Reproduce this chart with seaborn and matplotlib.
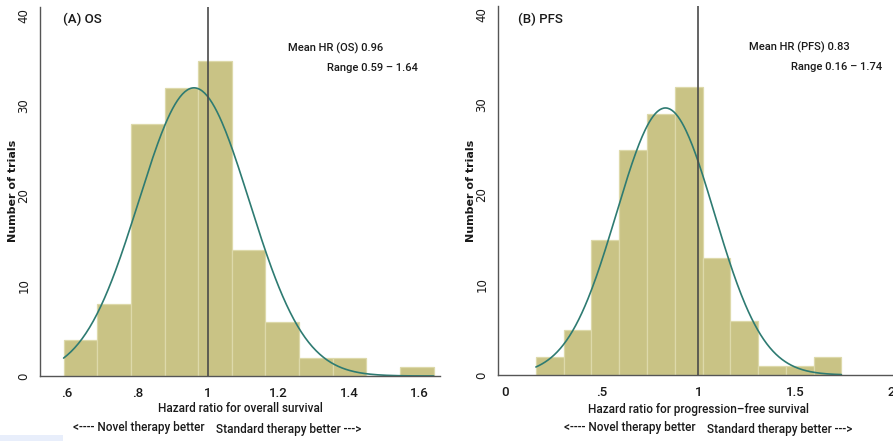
import seaborn as sns
import matplotlib.pyplot as plt
import matplotlib.patches as mpatches
import numpy as np
import pandas as pd

# Histogram counts (11 bins each)
os_counts = [4, 8, 28, 32, 35, 14, 6, 2, 2, 0, 1]
os_range = (0.59, 1.64)
os_mean = 0.96
os_sd = 0.157

pfs_counts = [2, 5, 15, 25, 29, 32, 13, 6, 1, 1, 2]
pfs_range = (0.16, 1.74)
pfs_mean = 0.83
pfs_sd = 0.253

os_ticks = [0.6, 0.8, 1.0, 1.2, 1.4, 1.6]
os_ticklabels = [".6", ".8", "1", "1.2", "1.4", "1.6"]
pfs_ticks = [0, 0.5, 1.0, 1.5, 2.0]
pfs_ticklabels = ["0", ".5", "1", "1.5", "2"]
y_ticks = [0, 10, 20, 30, 40]

bar_color = "#c9c385"
edge_color = "#ddd9aa"
curve_color = "#2e7b72"
axis_color = "#555555"
text_color = "#1a1a1a"
main_font = ["Roboto", "DejaVu Sans"]

sns.set_style("white")
plt.rcParams["font.family"] = main_font
plt.rcParams["font.weight"] = "medium"

fig = plt.figure(figsize=(8.93, 4.41), dpi=100)
W, H = 893, 441


def add_axes(left, right, bottom, top):
    return fig.add_axes([left / W, 1 - bottom / H, (right - left) / W, (bottom - top) / H])


def draw_panel(ax, counts, rng, mean, sd, xlim, ticks, ticklabels):
    edges = np.linspace(rng[0], rng[1], len(counts) + 1)
    centers = (edges[:-1] + edges[1:]) / 2
    width = edges[1] - edges[0]
    df = pd.DataFrame({"hr": centers, "n": counts})
    sns.histplot(data=df, x="hr", weights="n", bins=list(edges), color=bar_color,
                 edgecolor=edge_color, linewidth=0.9, alpha=1, ax=ax)
    # normal density overlay scaled to counts
    xs = np.linspace(rng[0], rng[1], 300)
    ys = sum(counts) * width * np.exp(-0.5 * ((xs - mean) / sd) ** 2) / (sd * np.sqrt(2 * np.pi))
    sns.lineplot(x=xs, y=ys, color=curve_color, linewidth=1.2, ax=ax)
    ax.axvline(1.0, color="#4a4a4a", linewidth=1.2, zorder=5)
    ax.set_xlim(*xlim)
    ax.set_ylim(0, 41)
    ax.set_xticks(ticks)
    ax.set_xticklabels(ticklabels, fontsize=9.5)
    ax.set_yticks(y_ticks)
    ax.set_yticklabels([str(t) for t in y_ticks], rotation=90, va="center",
                       fontsize=8.5, family=["DejaVu Sans"])
    ax.set_xlabel("")
    ax.set_ylabel("")
    for s in ["top", "right"]:
        ax.spines[s].set_visible(False)
    for s in ["left", "bottom"]:
        ax.spines[s].set_color(axis_color)
        ax.spines[s].set_linewidth(1.0)
    ax.tick_params(axis="both", direction="out", length=5, width=1,
                   color=axis_color, labelcolor=text_color)
    ax.tick_params(axis="y", pad=2)
    ax.tick_params(axis="x", pad=3)
    ax.patch.set_alpha(0)


# Panel A: overall survival
ax1 = add_axes(40, 440, 376, 7)
draw_panel(ax1, os_counts, os_range, os_mean, os_sd, (0.523, 1.658), os_ticks, os_ticklabels)
ax1.text(0.588, 39.6, "(A) OS", fontsize=9.5, ha="left", va="center", color=text_color)
ax1.text(1.496, 36.4, "Mean HR (OS) 0.96", fontsize=8, ha="right", va="center", color=text_color)
ax1.text(1.596, 34.2, "Range 0.59 \u2013 1.64", fontsize=8, ha="right", va="center", color=text_color)

# Panel B: progression-free survival
ax2 = add_axes(498, 893, 375, 6)
draw_panel(ax2, pfs_counts, pfs_range, pfs_mean, pfs_sd, (-0.036, 2.007), pfs_ticks, pfs_ticklabels)
ax2.text(0.067, 39.5, "(B) PFS", fontsize=9.5, ha="left", va="center", color=text_color)
ax2.text(1.785, 36.4, "Mean HR (PFS) 0.83", fontsize=8, ha="right", va="center", color=text_color)
ax2.text(1.950, 34.2, "Range 0.16 \u2013 1.74", fontsize=8, ha="right", va="center", color=text_color)

# Axis titles and direction notes
for x in (13, 471):
    fig.text(x / W, 1 - 191 / H, "Number of trials", rotation=90, ha="center", va="center",
             fontsize=8, family=["DejaVu Sans"], fontweight="semibold", color=text_color)

fig.text(240 / W, 1 - 408 / H, "Hazard ratio for overall survival", ha="center", va="center",
         fontsize=8.5, color=text_color)
fig.text(73 / W, 1 - 428 / H, "<---- Novel therapy better", ha="left", va="center",
         fontsize=8.5, color=text_color)
fig.text(216 / W, 1 - 429 / H, "Standard therapy better --->", ha="left", va="center",
         fontsize=8.5, color=text_color)

fig.text(698 / W, 1 - 409 / H, "Hazard ratio for progression\u2013free survival", ha="center", va="center",
         fontsize=8.5, color=text_color)
fig.text(564 / W, 1 - 428 / H, "<---- Novel therapy better", ha="left", va="center",
         fontsize=8.5, color=text_color)
fig.text(707 / W, 1 - 430 / H, "Standard therapy better --->", ha="left", va="center",
         fontsize=8.5, color=text_color)

# faint strip at the lower-left corner of the original image
fig.patches.append(mpatches.Rectangle((0, 0), 63 / W, 6 / H, transform=fig.transFigure,
                                      facecolor="#e8eefb", edgecolor="none"))

fig.savefig("out.png", dpi=100)
